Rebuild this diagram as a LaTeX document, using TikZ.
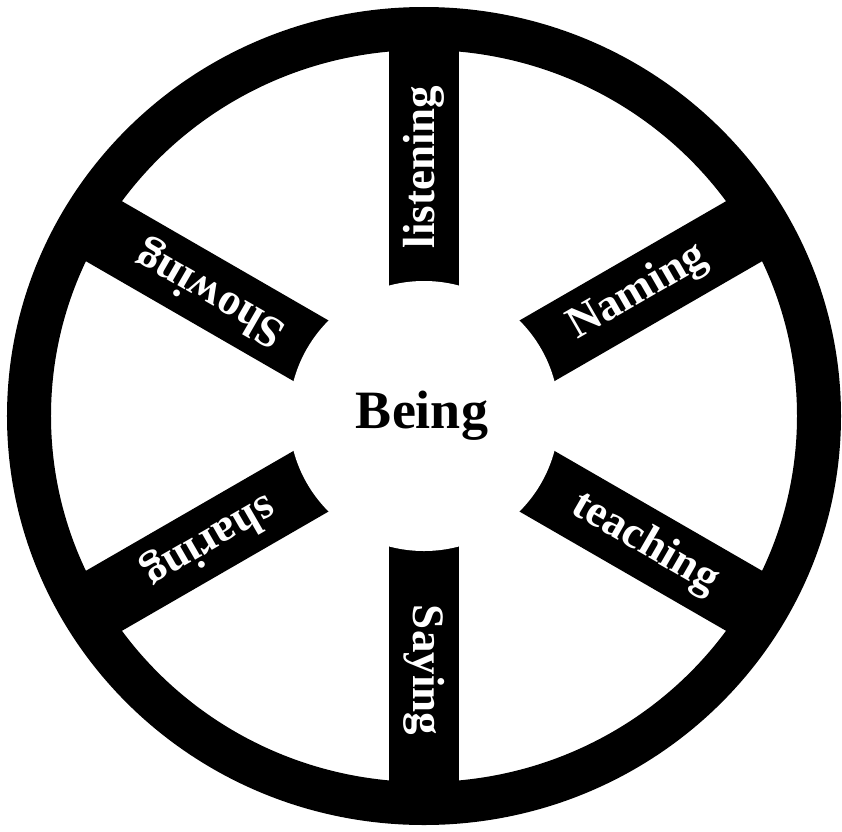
\documentclass[tikz,border=0pt]{standalone}
\usepackage{fontspec}
\setmainfont{Liberation Serif}
\begin{document}
\begin{tikzpicture}[x=1pt,y=1pt,
  spoketext/.style={text=white,font=\bfseries\fontsize{45}{50}\selectfont,inner sep=0pt,anchor=center},
  hubtext/.style={text=black,font=\bfseries\fontsize{54}{60}\selectfont,inner sep=0pt}]
\useasboundingbox (-424,-415) rectangle (418,416);
% spokes
\foreach \a in {90,30,-30,-90,-150,150}
  \fill[black,rotate=\a] (0,-35) rectangle (395,35);
% rim
\fill[black,even odd rule] (0,0) ellipse [x radius=417, y radius=409]
  (0,0) ellipse [x radius=373, y radius=366];
% hub
\fill[white] (0,0) circle (135);
\node[hubtext] (being) at (-2,0) {Being};
\node[spoketext,rotate=90]  (listening) at (90:249) {listening};
\node[spoketext,rotate=30]  (naming)    at (30:247) {Naming};
\node[spoketext,rotate=-30] (teaching)  at (-30:255) {teaching};
\node[spoketext,rotate=-90] (saying)    at (-90:254) {Saying};
\node[spoketext,rotate=210] (sharing)   at (210:248) {sharing};
\node[spoketext,rotate=150] (showing)   at (150:246) {Showing};
\end{tikzpicture}
\end{document}
